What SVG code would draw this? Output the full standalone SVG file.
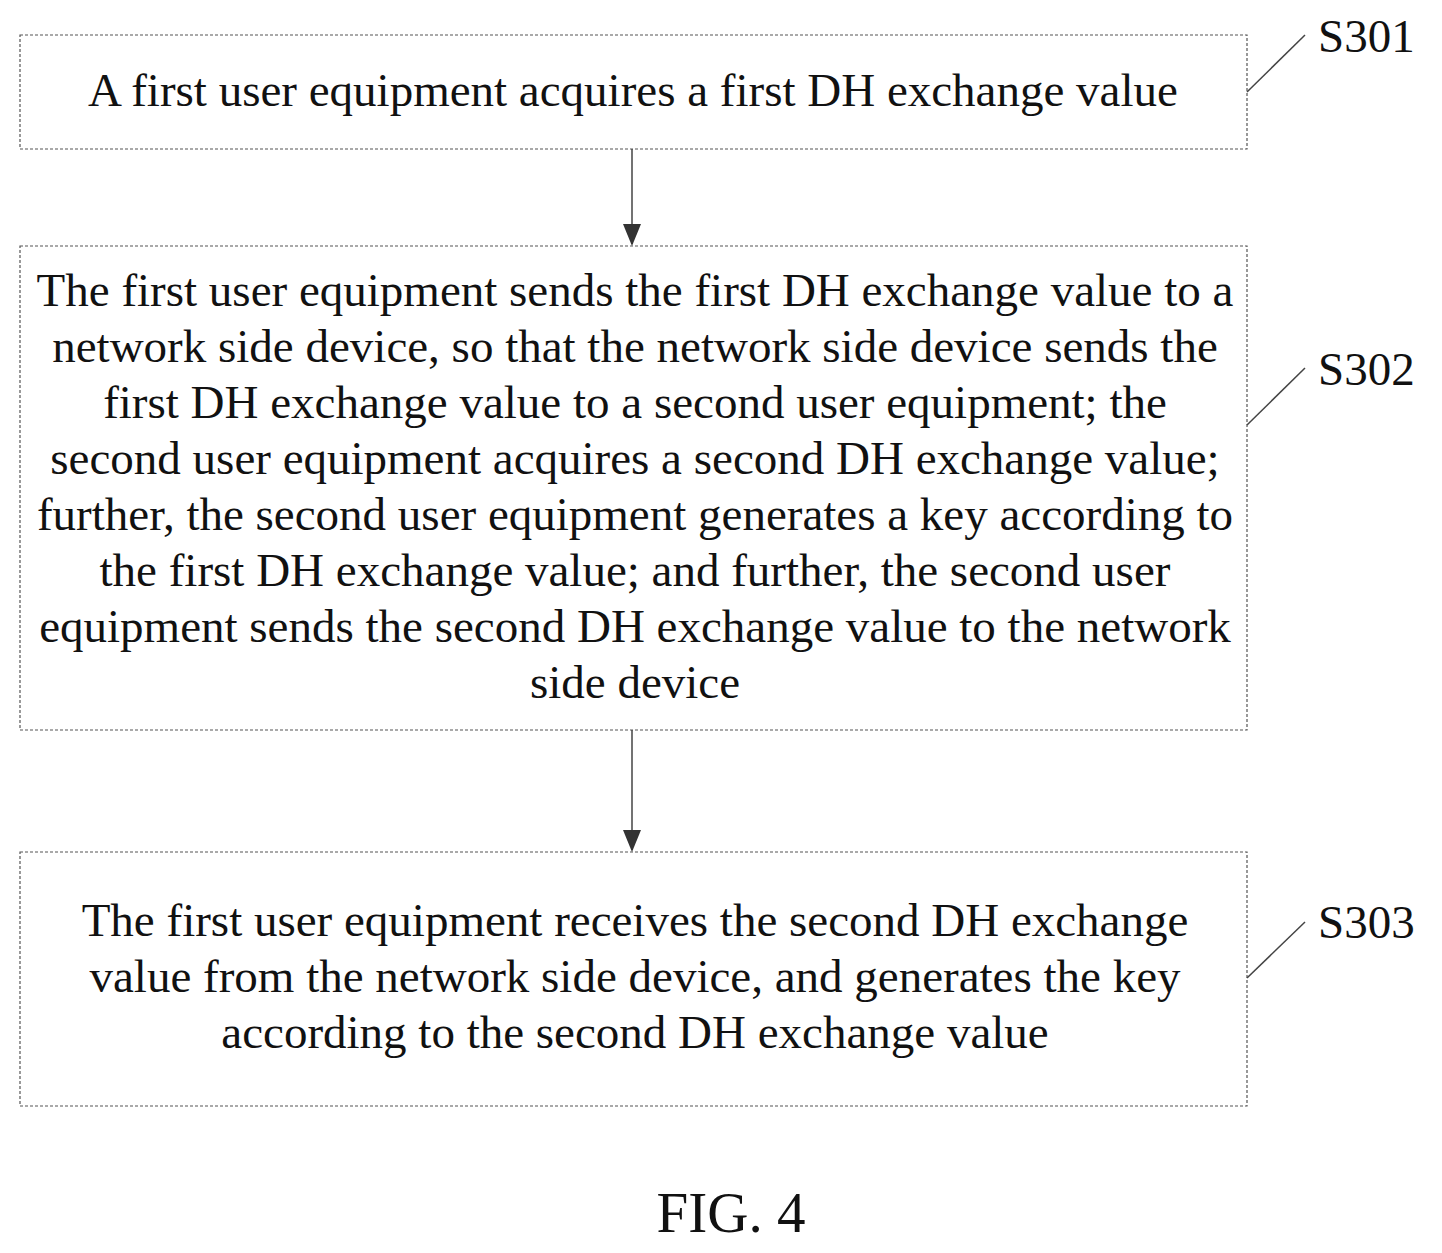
<svg xmlns="http://www.w3.org/2000/svg" width="1442" height="1253" viewBox="0 0 1442 1253">
<style>
.box{fill:#fff;stroke:#555;stroke-width:1.2;stroke-dasharray:3 2}
.t{font-family:"Liberation Serif",serif;font-size:47px;fill:#111;text-anchor:middle}
.lbl{font-family:"Liberation Serif",serif;font-size:47px;fill:#111}
.c{stroke:#444;stroke-width:1.5;fill:none}
</style>
<defs><marker id="a" markerWidth="18" markerHeight="22" refX="9" refY="20" orient="0" markerUnits="userSpaceOnUse" viewBox="0 0 18 22"><path d="M0,0L18,0L9,22Z" fill="#333"/></marker></defs>
<rect width="1442" height="1253" fill="#fff"/>
<g id="n1"><rect class="box" x="20" y="35" width="1227" height="114"/>
<text class="t" x="633" y="106">A first user equipment acquires a first DH exchange value</text></g>
<g id="n2"><rect class="box" x="20" y="246" width="1227" height="484"/>
<text class="t" x="635" y="306">The first user equipment sends the first DH exchange value to a</text>
<text class="t" x="635" y="362">network side device, so that the network side device sends the</text>
<text class="t" x="635" y="418">first DH exchange value to a second user equipment; the</text>
<text class="t" x="635" y="474">second user equipment acquires a second DH exchange value;</text>
<text class="t" x="635" y="530">further, the second user equipment generates a key according to</text>
<text class="t" x="635" y="586">the first DH exchange value; and further, the second user</text>
<text class="t" x="635" y="642">equipment sends the second DH exchange value to the network</text>
<text class="t" x="635" y="698">side device</text></g>
<g id="n3"><rect class="box" x="20" y="852" width="1227" height="254"/>
<text class="t" x="635" y="936">The first user equipment receives the second DH exchange</text>
<text class="t" x="635" y="992">value from the network side device, and generates the key</text>
<text class="t" x="635" y="1048">according to the second DH exchange value</text></g>
<g id="labels">
<text class="lbl" x="1318" y="52">S301</text><path class="c" d="M1247,92L1305,35"/>
<text class="lbl" x="1318" y="385">S302</text><path class="c" d="M1247,425L1305,368"/>
<text class="lbl" x="1318" y="938">S303</text><path class="c" d="M1247,978L1305,922"/>
</g>
<g id="connectors">
<path class="c" d="M632,149V244" marker-end="url(#a)"/>
<path class="c" d="M632,730V850" marker-end="url(#a)"/>
</g>
<text x="731" y="1232" style="font-family:'Liberation Serif',serif;font-size:57px;fill:#111;text-anchor:middle">FIG. 4</text>
</svg>
